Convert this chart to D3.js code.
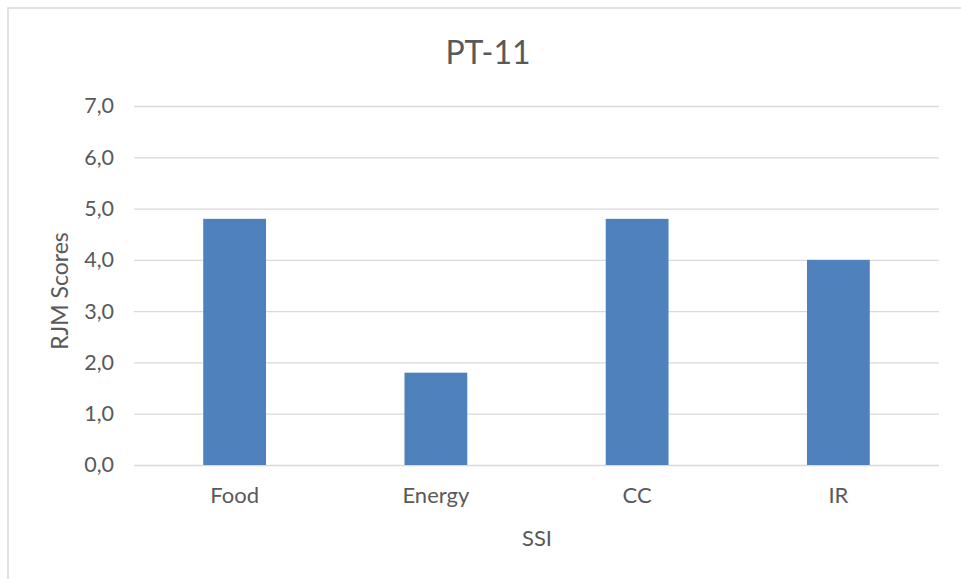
<!DOCTYPE html>
<html><head><meta charset="utf-8">
<script src="https://cdn.jsdelivr.net/npm/d3@7"></script>
<style>body{margin:0;background:#fff}svg{display:block;font-family:Lato,"Open Sans",sans-serif}</style>
</head><body>
<svg id="c" width="961" height="579"></svg>
<script>
const categories = ["Food","Energy","CC","IR"];
const values = [4.8, 1.8, 4.8, 4.0];
const yTicks = [0,1,2,3,4,5,6,7];
const title = "PT-11";
const xTitle = "SSI";
const yTitle = "RJM Scores";

const svg = d3.select("#c");
svg.append("rect").attr("x",8).attr("y",8).attr("width",980).attr("height",600)
  .attr("fill","#fff").attr("stroke","#d9d9d9").attr("stroke-width",1.5);

const m = {left:134, right:939, top:106, bottom:465};
const x = d3.scaleBand().domain(categories).range([m.left,m.right]).paddingInner(0.688).paddingOuter(0.344);
const y = d3.scaleLinear().domain([0,7]).range([m.bottom,m.top]);

const yAxis = d3.axisLeft(y).tickValues(yTicks).tickSize(-(m.right-m.left)).tickPadding(20)
  .tickFormat(d => d3.format(".1f")(d).replace(".",","));
const gy = svg.append("g").attr("transform",`translate(${m.left},0)`).call(yAxis);
gy.select(".domain").remove();
gy.selectAll("line").attr("stroke","#d9d9d9").attr("stroke-width",1.3);
gy.selectAll("text").attr("fill","#595959").style("font-size","21.5px").style("font-family","Lato");

svg.append("g").selectAll("rect").data(categories).join("rect")
  .attr("x",d=>x(d)).attr("width",x.bandwidth())
  .attr("y",(d,i)=>y(values[i])).attr("height",(d,i)=>y(0)-y(values[i]))
  .attr("fill","#4f81bd");

const xAxis = d3.axisBottom(x).tickSize(0).tickPadding(22);
const gx = svg.append("g").attr("transform",`translate(0,${m.bottom})`).call(xAxis);
gx.select(".domain").remove();
gx.selectAll("text").attr("fill","#595959").style("font-size","22px").style("font-family","Lato");

svg.append("text").attr("x",488).attr("y",64).attr("text-anchor","middle")
  .attr("fill","#595959").style("font-size","32px").text(title);
svg.append("text").attr("x",537).attr("y",546).attr("text-anchor","middle")
  .attr("fill","#595959").style("font-size","22px").text(xTitle);
svg.append("text").attr("transform","translate(68,291) rotate(-90)").attr("text-anchor","middle")
  .attr("fill","#595959").style("font-size","23px").text(yTitle);
</script>
</body></html>
